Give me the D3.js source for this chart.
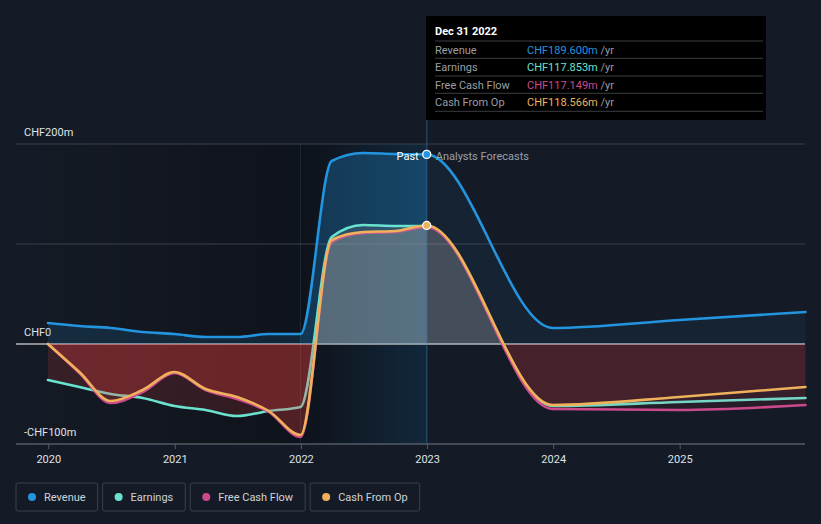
<!DOCTYPE html>
<html><head><meta charset="utf-8">
<script src="https://cdn.jsdelivr.net/npm/d3@7"></script>
<style>
body{margin:0;background:#151b26;}
svg{display:block;font-family:Roboto,"Noto Sans",sans-serif;}
</style></head><body>
<svg id="c" width="821" height="524"></svg>
<script>
// ---------- data ----------
const pastDates = ["2019-12-31","2020-03-31","2020-06-30","2020-09-30","2020-12-31","2021-03-31","2021-06-30","2021-09-30","2021-12-31","2022-03-31","2022-06-30","2022-09-30","2022-12-31"];
const forecastDates = ["2022-12-31","2023-12-31","2024-12-31","2025-12-31"];
const revenuePast  = [21, 18, 16, 12, 10, 7, 7, 10, 10, 183, 191, 190, 189.6];
const earningsPast = [-36, -43, -50, -54, -62, -66, -72, -67, -63, 107, 119, 118, 117.853];
const fcfPast      = [0, -29, -59, -48, -29, -46, -55, -68, -93, 102, 111, 112, 117.149];
const cfoPast      = [0, -28, -57, -46, -28, -45, -53, -67, -91, 104, 112, 113, 118.566];
const revenueForecast  = [189.6, 16, 24, 32];
const earningsForecast = [117.853, -62, -58, -54];
const fcfForecast      = [117.149, -65, -66, -61];
const cfoForecast      = [118.566, -61, -53, -43];
const seriesNames  = ["Revenue","Earnings","Free Cash Flow","Cash From Op"];
const seriesColors = ["#2394df","#6ae2d0","#cc4a8c","#efb25a"];
const yTickValues = [200, 0, -100];
const yTickLabels = ["CHF200m","CHF0","-CHF100m"];
const yGridValues = [200, 100];
const xTickYears = [2020, 2021, 2022, 2023, 2024, 2025];
const tooltipTitle = "Dec 31 2022";
const tooltipValues = ["CHF189.600m","CHF117.853m","CHF117.149m","CHF118.566m"];
const bandStartDate = "2021-12-31";
const nowDate = "2022-12-31";

// ---------- setup ----------
const svg = d3.select("#c");
const W = 821, H = 524;
const parse = d3.timeParse("%Y-%m-%d");
const x = d3.scaleTime().domain([new Date(2020,0,1), new Date(2025,0,1)]).range([48.3, 679.7]);
const y = d3.scaleLinear().domain([-100, 200]).range([444, 144]);
const L = 16, R = 805;
const xNow = x(parse(nowDate)), xBand = x(parse(bandStartDate));
const y0 = y(0);

svg.append("rect").attr("width", W).attr("height", H).attr("fill", "#151b26");

const defs = svg.append("defs");
const gDark = defs.append("linearGradient").attr("id","gDark").attr("gradientUnits","userSpaceOnUse")
  .attr("x1", L).attr("x2", xBand).attr("y1",0).attr("y2",0);
gDark.append("stop").attr("offset","0").attr("stop-color","#000").attr("stop-opacity",0.02);
gDark.append("stop").attr("offset","1").attr("stop-color","#000").attr("stop-opacity",0.3);
const gBlue = defs.append("linearGradient").attr("id","gBlue").attr("gradientUnits","userSpaceOnUse")
  .attr("x1", xBand).attr("x2", xNow).attr("y1",0).attr("y2",0);
gBlue.append("stop").attr("offset","0").attr("stop-color","#2394df").attr("stop-opacity",0.0);
gBlue.append("stop").attr("offset","1").attr("stop-color","#2394df").attr("stop-opacity",0.17);

function clip(id, x0, x1, ya, yb){
  defs.append("clipPath").attr("id", id).append("rect")
    .attr("x", x0).attr("y", ya).attr("width", x1 - x0).attr("height", yb - ya);
}
clip("pastPos", 0, xNow, 0, y0);
clip("pastNeg", 0, xNow, y0, H);
clip("fcPos", xNow, W, 0, y0);
clip("fcNeg", xNow, W, y0, H);
clip("past", 0, xNow, 0, H);
clip("fc", xNow, W, 0, H);
clip("band", xBand, xNow, 0, H);

// background overlays
svg.append("rect").attr("x", L).attr("y", y(200)).attr("width", xBand - L).attr("height", y(-100) - y(200)).attr("fill","url(#gDark)");
svg.append("rect").attr("x", xBand).attr("y", y(200)).attr("width", xNow - xBand).attr("height", y(-100) - y(200)).attr("fill","#000").attr("opacity",0.3);
svg.append("rect").attr("x", xBand).attr("y", y(200)).attr("width", xNow - xBand).attr("height", y(-100) - y(200)).attr("fill","url(#gBlue)");
svg.append("line").attr("x1", xBand).attr("x2", xBand).attr("y1", y(200)).attr("y2", y(-100)).attr("stroke","#2a3a4c").attr("stroke-width",1).attr("opacity",0.6);

// grid
svg.selectAll("line.grid").data(yGridValues).join("line").attr("class","grid")
  .attr("x1", L).attr("x2", R).attr("y1", d => y(d)).attr("y2", d => y(d))
  .attr("stroke", "#3a404b").attr("stroke-width", 1);
svg.append("line").attr("x1", L).attr("x2", R).attr("y1", y0).attr("y2", y0).attr("stroke","#ffffff").attr("stroke-width",1.2);

// x axis
const xAxisG = svg.append("g").attr("transform", `translate(0,${y(-100)})`);
xAxisG.append("line").attr("x1", L).attr("x2", R).attr("stroke","#555b66").attr("stroke-width",1.5);
xAxisG.call(g => {
  const ax = d3.axisBottom(x).tickValues(xTickYears.map(v => new Date(v,0,1))).tickFormat(d3.timeFormat("%Y")).tickSize(5).tickPadding(6);
  g.call(ax);
  g.select(".domain").remove();
  g.selectAll(".tick line").attr("stroke","#555b66");
  g.selectAll(".tick text").attr("fill","#dfe2e6").attr("font-size",11).attr("font-family","Roboto,sans-serif");
});

// y labels
svg.selectAll("text.ylab").data(yTickValues).join("text").attr("class","ylab")
  .attr("x", 24).attr("y", d => y(d) - 8).attr("fill","#dfe2e6").attr("font-size",11)
  .text((d,i) => yTickLabels[i]);

// series
const allDates = pastDates.concat(forecastDates.slice(1)).map(parse);
const seriesVals = [
  revenuePast.concat(revenueForecast.slice(1)),
  earningsPast.concat(earningsForecast.slice(1)),
  fcfPast.concat(fcfForecast.slice(1)),
  cfoPast.concat(cfoForecast.slice(1))
];
const curve = d3.curveMonotoneX;
const line = d3.line().x(d => x(d[0])).y(d => y(d[1])).curve(curve);
const area = d3.area().x(d => x(d[0])).y0(y0).y1(d => y(d[1])).curve(curve);

seriesVals.forEach((vals, i) => {
  const pts = allDates.map((d, k) => [d, vals[k]]);
  const a = area(pts);
  if (i === 0) {
    svg.append("path").attr("d", a).attr("fill", seriesColors[0]).attr("opacity", 0.15).attr("clip-path","url(#past)");
    svg.append("path").attr("d", a).attr("fill", seriesColors[0]).attr("opacity", 0.16).attr("clip-path","url(#band)");
    svg.append("path").attr("d", a).attr("fill", seriesColors[0]).attr("opacity", 0.07).attr("clip-path","url(#fc)");
  } else {
    svg.append("path").attr("d", a).attr("fill", "#b8b2ac").attr("opacity", 0.16).attr("clip-path","url(#pastPos)");
    svg.append("path").attr("d", a).attr("fill", "#ff4646").attr("opacity", 0.15).attr("clip-path","url(#pastNeg)");
    svg.append("path").attr("d", a).attr("fill", "#c8c8c8").attr("opacity", 0.1).attr("clip-path","url(#fcPos)");
    svg.append("path").attr("d", a).attr("fill", "#ff4646").attr("opacity", 0.075).attr("clip-path","url(#fcNeg)");
  }
  svg.append("path").attr("d", line(pts)).attr("fill","none").attr("stroke", seriesColors[i])
    .attr("stroke-width", 2.6).attr("stroke-linejoin","round").attr("stroke-linecap","round");
});

// now line
svg.append("line").attr("x1", xNow).attr("x2", xNow).attr("y1", 120).attr("y2", y(-100))
  .attr("stroke","#4a86b5").attr("stroke-width",1.5).attr("opacity",0.35);

// labels past / forecasts
svg.append("text").attr("x", xNow - 8).attr("y", y(revenuePast[revenuePast.length-1]) + 6).attr("text-anchor","end")
  .attr("fill","#ffffff").attr("font-size",11).text("Past");
svg.append("text").attr("x", xNow + 9).attr("y", y(revenuePast[revenuePast.length-1]) + 6)
  .attr("fill","#9aa0a8").attr("font-size",11).text("Analysts Forecasts");

// dots
svg.append("circle").attr("cx", xNow).attr("cy", y(revenuePast[revenuePast.length-1])).attr("r",4)
  .attr("fill", seriesColors[0]).attr("stroke","#ffffff").attr("stroke-width",1.3);
svg.append("circle").attr("cx", xNow).attr("cy", y(cfoPast[cfoPast.length-1])).attr("r",4)
  .attr("fill", seriesColors[3]).attr("stroke","#ffffff").attr("stroke-width",1.3);

// tooltip
const tt = svg.append("g");
tt.append("rect").attr("x", 426).attr("y", 16).attr("width", 340).attr("height", 104).attr("fill","#000000");
tt.append("text").attr("x", 435).attr("y", 35).attr("fill","#ffffff").attr("font-size",11).attr("font-weight","bold").text(tooltipTitle);
const rowY = [41, 58.3, 76, 93.3, 111.3];
rowY.forEach(v => tt.append("line").attr("x1",435).attr("x2",763).attr("y1",v).attr("y2",v).attr("stroke","#3a3d42").attr("stroke-width",1));
seriesNames.forEach((n, i) => {
  const by = rowY[i] + 12.5;
  tt.append("text").attr("x",435).attr("y",by).attr("fill","#9a9ea4").attr("font-size",11).text(n);
  const t = tt.append("text").attr("x",527).attr("y",by).attr("font-size",11);
  t.append("tspan").attr("fill", seriesColors[i]).text(tooltipValues[i]);
  t.append("tspan").attr("fill","#9a9ea4").text(" /yr");
});

// legend
let lx = 16;
seriesNames.forEach((n, i) => {
  const g = svg.append("g").attr("transform", `translate(${lx},483)`);
  const r = g.append("rect").attr("y",0).attr("height",28).attr("rx",2).attr("fill","none").attr("stroke","#3a404b").attr("stroke-width",1);
  g.append("circle").attr("cx",16).attr("cy",14).attr("r",4).attr("fill",seriesColors[i]);
  const t = g.append("text").attr("x",28).attr("y",18).attr("fill","#cfd3d8").attr("font-size",11).text(n);
  const w = t.node().getComputedTextLength() + 28 + 12;
  r.attr("width", w);
  lx += w + 5;
});
</script>
</body></html>
